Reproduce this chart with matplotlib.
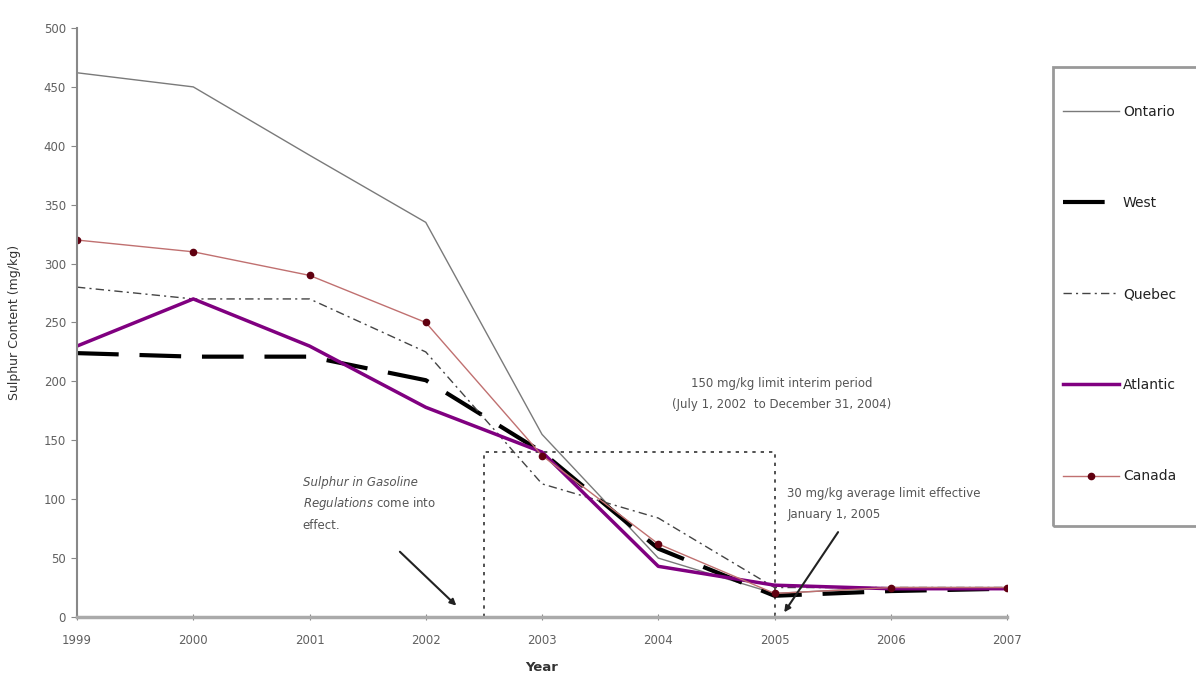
import matplotlib
matplotlib.use("Agg")
import matplotlib.pyplot as plt
from matplotlib.patches import Rectangle

plt.rcParams['font.family'] = ['DejaVu Sans']
plt.rcParams['mathtext.fontset'] = 'custom'
plt.rcParams['mathtext.rm'] = 'DejaVu Sans'
plt.rcParams['mathtext.it'] = 'DejaVu Sans:italic'

# Average sulphur content in gasoline by region (mg/kg)
years = [1999, 2000, 2001, 2002, 2003, 2004, 2005, 2006, 2007]
ontario = [462, 450, 392, 335, 155, 50, 20, 25, 25]
west = [224, 221, 221, 201, 140, 58, 18, 22, 24]
quebec = [280, 270, 270, 225, 113, 84, 25, 25, 25]
atlantic = [230, 270, 230, 178, 140, 43, 27, 24, 24]
canada = [320, 310, 290, 250, 137, 62, 20, 25, 25]

# interim limit window (July 1, 2002 - December 31, 2004)
interim_start = 2002.5
interim_end = 2005.0
interim_top = 140

fig = plt.figure(figsize=(11.96, 6.78), dpi=100)
ax = fig.add_axes([0.0644, 0.09, 0.7776, 0.8687])

ax.plot(years, ontario, color='#7a7a7a', lw=1.0, label='Ontario')
ax.plot(years, west, color='black', lw=3.0, dashes=(10, 5), label='West')
ax.plot(years, quebec, color='#444444', lw=1.0, dashes=(6, 3, 1.5, 3), label='Quebec')
ax.plot(years, atlantic, color='#800080', lw=2.5, label='Atlantic')
ax.plot(years, canada, color='#c07070', lw=1.0, marker='o', markersize=4.5,
        markerfacecolor='#600010', markeredgecolor='#600010', label='Canada')

# dotted box marking the interim period
ax.plot([interim_start, interim_start, interim_end, interim_end],
        [0, interim_top, interim_top, 0], color='#333333', lw=1.2,
        linestyle=(0, (2, 3)), zorder=1)

ax.set_xlim(1999, 2007)
ax.set_ylim(0, 500)
ax.set_xticks(years)
ax.set_yticks(range(0, 501, 50))
ax.tick_params(axis='both', labelsize=8.5, labelcolor='#606060', color='#888888')
ax.tick_params(axis='x', direction='inout', length=5, pad=10)
ax.tick_params(axis='y', direction='out', length=4, pad=4)

for s in ['top', 'right']:
    ax.spines[s].set_visible(False)
ax.spines['left'].set_color('#888888')
ax.spines['left'].set_linewidth(1.5)
ax.spines['bottom'].set_color('#aaaaaa')
ax.spines['bottom'].set_linewidth(2.5)

ax.set_xlabel('Year', fontsize=9.5, fontweight='bold', color='#333333', labelpad=10)
ax.set_ylabel('Sulphur Content (mg/kg)', fontsize=9, color='#333333', labelpad=16)

# annotations
note_style = dict(fontsize=8.5, color='#555555', ha='left', va='baseline')
ax.text(2000.94, 111, 'Sulphur in Gasoline', style='italic', **note_style)
ax.text(2000.94, 93, '$\\it{Regulations}$ come into', **note_style)
ax.text(2000.94, 75, 'effect.', **note_style)
ax.annotate('', xy=(2002.28, 8), xytext=(2001.76, 57),
            arrowprops=dict(arrowstyle='-|>', color='#222222', lw=1.5, mutation_scale=9))

ax.text(2005.06, 189, '150 mg/kg limit interim period\n(July 1, 2002  to December 31, 2004)',
        fontsize=8.5, color='#555555', ha='center', va='center', linespacing=1.8)

ax.text(2005.11, 96, '30 mg/kg average limit effective\nJanuary 1, 2005',
        fontsize=8.5, color='#555555', ha='left', va='center', linespacing=1.8)
ax.annotate('', xy=(2005.07, 2), xytext=(2005.56, 74),
            arrowprops=dict(arrowstyle='-|>', color='#222222', lw=1.5, mutation_scale=9))

# legend box runs off the right edge
fig.patches.append(Rectangle((0.8804, 0.224), 0.2, 0.677, transform=fig.transFigure,
                             fill=False, edgecolor='#999999', lw=2))
fig.legend(loc='upper left', bbox_to_anchor=(0.889, 0.845), frameon=False,
           fontsize=10, labelspacing=5.55, handlelength=4.0, handletextpad=0.3,
           borderpad=0, borderaxespad=0, labelcolor='#222222')

fig.savefig('out.png', dpi=100)
